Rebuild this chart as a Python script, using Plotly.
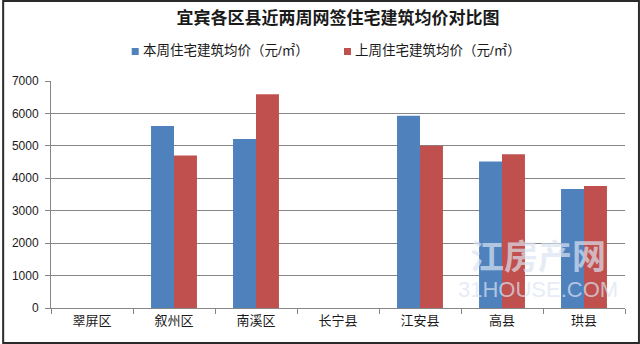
import plotly.graph_objects as go

categories = ["翠屏区", "叙州区", "南溪区", "长宁县", "江安县", "高县", "珙县"]
this_week = [None, 5610, 5210, None, 5930, 4520, 3670]
last_week = [None, 4700, 6590, None, 5000, 4740, 3760]
series_names = ["本周住宅建筑均价（元/㎡）", "上周住宅建筑均价（元/㎡）"]
series_colors = ["#4F81BD", "#C0504D"]
title_text = "宜宾各区县近两周网签住宅建筑均价对比图"

W, H = 640, 344
L, R, T, B = 49, 15, 81, 36
PW, PH = W - L - R, H - T - B

def px(x):
    return (x - L) / PW

def py(y):
    return (H - B - y) / PH

FONT = "Liberation Sans, Noto Sans CJK SC, sans-serif"

fig = go.Figure()
for name, vals, col in zip(series_names, [this_week, last_week], series_colors):
    fig.add_trace(go.Bar(x=categories, y=vals, name=name, marker_color=col,
                         marker_line_width=0, showlegend=False))

shapes = [
    dict(type="rect", xref="paper", yref="paper", x0=px(1), x1=px(639), y0=py(343), y1=py(1),
         line=dict(color="#2a2a2a", width=2), fillcolor="rgba(0,0,0,0)", layer="above"),
]
annotations = []
legend_sq_x = [130, 343]
for i, (name, col) in enumerate(zip(series_names, series_colors)):
    sx = legend_sq_x[i]
    shapes.append(dict(type="rect", xref="paper", yref="paper",
                       x0=px(sx), x1=px(sx + 7), y0=py(55), y1=py(48),
                       fillcolor=col, line=dict(width=0)))
    annotations.append(dict(text=name, xref="paper", yref="paper", x=px(sx + 9), y=py(50),
                            xanchor="left", yanchor="middle", showarrow=False,
                            font=dict(family=FONT, size=13.5, color="#1a1a1a")))

# watermark
annotations.append(dict(text="<b>江房产网</b>", xref="paper", yref="paper", x=px(538), y=py(254),
                        xanchor="center", yanchor="middle", showarrow=False,
                        font=dict(family="Noto Sans CJK SC", size=34, color="rgba(220,228,242,0.7)")))
annotations.append(dict(text="31HOUSE.COM", xref="paper", yref="paper", x=px(538), y=py(289),
                        xanchor="center", yanchor="middle", showarrow=False,
                        font=dict(family="Liberation Sans Narrow, Liberation Sans", size=22,
                                  color="rgba(220,228,242,0.7)")))

fig.update_layout(
    width=W, height=H,
    margin=dict(l=L, r=R, t=T, b=B, pad=0),
    paper_bgcolor="white", plot_bgcolor="white",
    barmode="group", bargap=0.44, bargroupgap=0,
    title=dict(text="<b>" + title_text + "</b>", x=0.5, xref="paper", xanchor="center",
               y=1 - 18 / H, yref="container", yanchor="middle",
               font=dict(family="Noto Sans CJK SC", size=17, color="#1a1a1a")),
    font=dict(family=FONT, size=12, color="#1a1a1a"),
    shapes=shapes,
    annotations=annotations,
    showlegend=False,
)
fig.update_xaxes(type="category", showline=True, linecolor="#868686", linewidth=1,
                 ticks="outside", tickson="boundaries", ticklen=5, tickcolor="#868686",
                 showgrid=False, tickfont=dict(family="Noto Sans CJK SC", size=13, color="#1a1a1a"),
                 fixedrange=True)
fig.update_yaxes(range=[0, 7000], dtick=1000, showline=True, linecolor="#868686", linewidth=1,
                 ticks="outside", ticklen=5, tickcolor="#868686",
                 showgrid=True, gridcolor="#868686", gridwidth=1, zeroline=False,
                 tickfont=dict(family="Liberation Sans", size=12, color="#1a1a1a"),
                 ticklabelstandoff=4, fixedrange=True)

fig.write_html("out.html", config={"displayModeBar": False})
